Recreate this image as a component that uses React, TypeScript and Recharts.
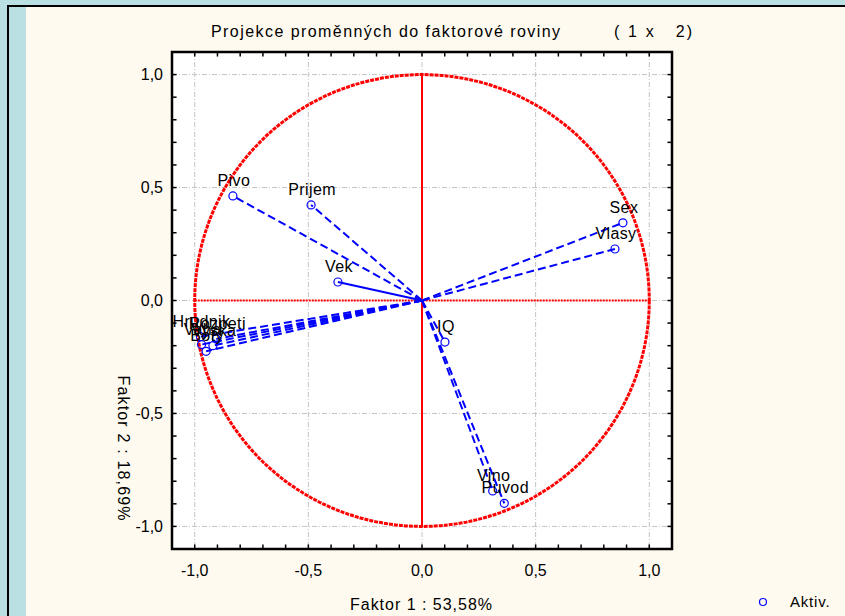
import React from 'react';
import {
  ScatterChart,
  Scatter,
  XAxis,
  YAxis,
  CartesianGrid,
  ReferenceLine,
  ReferenceArea,
} from 'recharts';

// ---- data ----
const variables = ['Pivo', 'Prijem', 'Vek', 'Sex', 'Vlasy', 'IQ', 'Vino', 'Puvod', 'Hrudnik', 'Rozpeti', 'Vaha', 'Vyska', 'Boty'];
const factor1 = [-0.832, -0.488, -0.37, 0.884, 0.849, 0.101, 0.311, 0.362, -0.975, -0.905, -0.97, -0.92, -0.95];
const factor2 = [0.463, 0.423, 0.082, 0.344, 0.228, -0.184, -0.843, -0.898, -0.16, -0.17, -0.195, -0.2, -0.225];
const axisTicks = [-1, -0.5, 0, 0.5, 1];
const minorTicks = [-1.0, -0.9, -0.8, -0.7, -0.6, -0.5, -0.4, -0.3, -0.2, -0.1, 0, 0.1, 0.2, 0.3, 0.4, 0.5, 0.6, 0.7, 0.8, 0.9, 1.0];
const domainLimit = 1.1;
const title = 'Projekce proměnných do faktorové roviny';
const titleSuffix = '( 1 x   2)';
const xTitle = 'Faktor 1 : 53,58%';
const yTitle = 'Faktor 2 : 18,69%';
const legendLabel = 'Aktiv.';

const points = variables.map((name, i) => ({ name, x: factor1[i], y: factor2[i] }));

const FONT = "'Liberation Sans', Arial, Helvetica, sans-serif";
const fmt = (v: number) => v.toFixed(1).replace('.', ',');
const TICK_LEN = 0.02;

const PointShape = (props: any) => {
  const { cx, cy, payload } = props;
  if (cx == null || cy == null) return null;
  return (
    <g>
      <circle cx={cx} cy={cy} r={4} fill="none" stroke="#0000FF" strokeWidth={1.2} />
      <text
        x={cx + 1}
        y={cy - 10}
        textAnchor="middle"
        fontSize={16}
        fontFamily={FONT}
        fill="#000"
        letterSpacing={0.4}
      >
        {payload.name}
      </text>
    </g>
  );
};

const CircleShape = (props: any) => {
  const { x, y, width, height } = props;
  return (
    <ellipse
      cx={x + width / 2}
      cy={y + height / 2}
      rx={Math.abs(width) / 2}
      ry={Math.abs(height) / 2}
      fill="none"
      stroke="#FF0000"
      strokeWidth={3}
      strokeDasharray="4 1"
    />
  );
};

export default function App() {
  const L = domainLimit;
  return (
    <div style={{ position: 'absolute', left: 0, top: 0, width: 845, height: 616, background: '#BBE0E4', overflow: 'hidden' }}>
      <div style={{ position: 'absolute', left: 7, top: 5, width: 838, height: 2, background: '#000' }} />
      <div style={{ position: 'absolute', left: 7, top: 5, width: 2, height: 611, background: '#000' }} />
      <div style={{ position: 'absolute', left: 26, top: 7, width: 819, height: 609, background: '#FFFAEF' }} />
      <div style={{ position: 'absolute', left: 0, top: 0 }}>
        <ScatterChart width={845} height={616} margin={{ top: 52, right: 173, bottom: 37, left: 112 }}>
          <CartesianGrid fill="#FFFFFF" stroke="#C4C4C4" strokeDasharray="5 2 1 2" />
          <XAxis
            type="number"
            dataKey="x"
            domain={[-L, L]}
            ticks={axisTicks}
            interval={0}
            allowDataOverflow
            tickFormatter={fmt}
            tickLine={false}
            axisLine={false}
            tickMargin={10}
            height={30}
            tick={{ fill: '#000', fontSize: 16, fontFamily: FONT }}
          />
          <YAxis
            type="number"
            dataKey="y"
            domain={[-L, L]}
            ticks={axisTicks}
            interval={0}
            allowDataOverflow
            tickFormatter={fmt}
            tickLine={false}
            axisLine={false}
            tickMargin={3}
            width={60}
            tick={{ fill: '#000', fontSize: 16, fontFamily: FONT }}
          />
          <ReferenceArea x1={-1} x2={1} y1={-1} y2={1} ifOverflow="visible" shape={CircleShape} />
          <ReferenceLine segment={[{ x: 0, y: -1 }, { x: 0, y: 1 }]} stroke="#FF0000" strokeWidth={2} ifOverflow="visible" />
          <ReferenceLine segment={[{ x: -1, y: 0 }, { x: 1, y: 0 }]} stroke="#FF0000" strokeWidth={2} strokeDasharray="2 1" ifOverflow="visible" />
          {points.map((p) => (
            <ReferenceLine
              key={'v' + p.name}
              segment={[{ x: 0, y: 0 }, { x: p.x, y: p.y }]}
              stroke="#0000FF"
              strokeWidth={2}
              strokeDasharray={p.name === 'Vek' ? undefined : '8 4'}
              ifOverflow="visible"
            />
          ))}
          <Scatter data={points} isAnimationActive={false} shape={PointShape} />
          {minorTicks.map((t) => (
            <ReferenceLine key={'tt' + t} segment={[{ x: t, y: L }, { x: t, y: L - TICK_LEN }]} stroke="#000" strokeWidth={1.5} ifOverflow="visible" />
          ))}
          {minorTicks.map((t) => (
            <ReferenceLine key={'tb' + t} segment={[{ x: t, y: -L }, { x: t, y: -L + TICK_LEN }]} stroke="#000" strokeWidth={1.5} ifOverflow="visible" />
          ))}
          {minorTicks.map((t) => (
            <ReferenceLine key={'tl' + t} segment={[{ x: -L, y: t }, { x: -L + TICK_LEN, y: t }]} stroke="#000" strokeWidth={1.5} ifOverflow="visible" />
          ))}
          {minorTicks.map((t) => (
            <ReferenceLine key={'tr' + t} segment={[{ x: L, y: t }, { x: L - TICK_LEN, y: t }]} stroke="#000" strokeWidth={1.5} ifOverflow="visible" />
          ))}
          <ReferenceArea x1={-L} x2={L} y1={-L} y2={L} fill="none" fillOpacity={0} stroke="#000" strokeWidth={2.5} ifOverflow="visible" />
        </ScatterChart>
      </div>
      <svg width={845} height={616} style={{ position: 'absolute', left: 0, top: 0, pointerEvents: 'none' }}>
        <text x={211} y={37} fontSize={16} fontFamily={FONT} fill="#000" textLength={349} lengthAdjust="spacing">
          {title}
        </text>
        <text x={614} y={37} fontSize={16} fontFamily={FONT} fill="#000" textLength={78} lengthAdjust="spacing" style={{ whiteSpace: 'pre' }}>
          {titleSuffix}
        </text>
        <text x={421} y={610} textAnchor="middle" fontSize={16} fontFamily={FONT} fill="#000" textLength={142} lengthAdjust="spacing">
          {xTitle}
        </text>
        <text
          transform="translate(118,448) rotate(90)"
          x={0}
          y={0}
          textAnchor="middle"
          fontSize={16}
          fontFamily={FONT}
          fill="#000"
          textLength={145}
          lengthAdjust="spacing"
        >
          {yTitle}
        </text>
        <circle cx={763} cy={602} r={3.5} fill="none" stroke="#0000FF" strokeWidth={1.2} />
        <text x={790} y={607} fontSize={15} fontFamily={FONT} fill="#000" letterSpacing={0.8}>
          {legendLabel}
        </text>
      </svg>
    </div>
  );
}
